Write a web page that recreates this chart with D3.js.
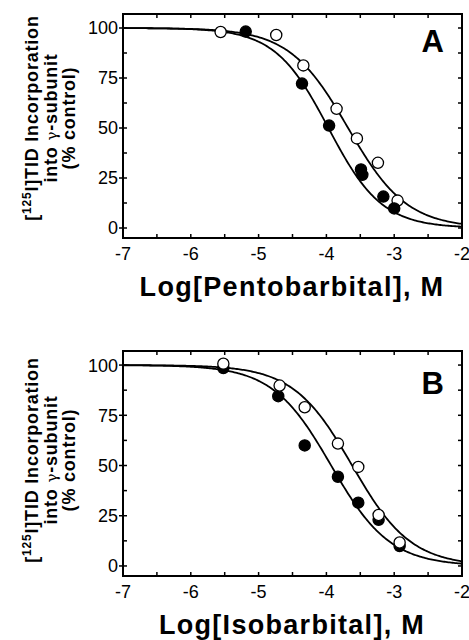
<!DOCTYPE html>
<html>
<head>
<meta charset="utf-8">
<script src="https://cdn.jsdelivr.net/npm/d3@7"></script>
<style>
    html, body { margin: 0; padding: 0; background: #fff; }
    svg { display: block; font-family: "Liberation Sans", Arial, sans-serif; }
</style>
</head>
<body>
<div id="chart"></div>
<script>
// axis ticks
var xTickVals = [-7, -6, -5, -4, -3, -2];
var xTickLabels = ["-7", "-6", "-5", "-4", "-3", "-2"];
var yTickVals = [0, 25, 50, 75, 100];
var yTickLabels = ["0", "25", "50", "75", "100"];

// panel A: pentobarbital (open / filled circles)
var pentoOpenLogC = [-5.56, -4.74, -4.34, -3.85, -3.55, -3.24, -2.95];
var pentoOpenPct = [98.0, 96.5, 81.3, 59.6, 44.8, 32.6, 13.7];
var pentoFilledLogC = [-5.19, -4.36, -3.96, -3.49, -3.47, -3.16, -3.00];
var pentoFilledPct = [98.2, 72.2, 51.2, 29.3, 26.6, 15.7, 9.8];
// fitted curves [open, filled]
var pentoFitLogIC50 = [-3.68, -3.97];
var pentoFitHill = [1.0, 1.1];

// panel B: isobarbital
var isoOpenLogC = [-5.52, -4.69, -4.32, -3.83, -3.53, -3.23, -2.92];
var isoOpenPct = [100.7, 89.8, 79.0, 60.9, 49.3, 25.4, 11.7];
var isoFilledLogC = [-5.52, -4.71, -4.32, -3.83, -3.53, -3.23, -2.92];
var isoFilledPct = [98.5, 84.5, 60.0, 44.4, 31.5, 23.0, 9.9];
var isoFitLogIC50 = [-3.62, -3.93];
var isoFitHill = [1.0, 1.0];

var width = 469, height = 640;

var svg = d3.select('#chart').append('svg')
    .attr('width', width)
    .attr('height', height);

function hill(logC, logIC50, n) {
    return 100 / (1 + Math.pow(10, n * (logC - logIC50)));
}

function drawPanel(p) {
    var x = d3.scaleLinear().domain([-7, -2]).range([123, 462]);
    var y = d3.scaleLinear().domain([-5, 107]).range([p.bottom, p.top]);

    var g = svg.append('g');
    var clipId = 'clip-' + p.letter;

    g.append('clipPath').attr('id', clipId)
        .append('rect')
        .attr('x', 123).attr('y', p.top)
        .attr('width', 339).attr('height', p.bottom - p.top);

    // minor / major ticks, all inward
    var xt = d3.range(-7, -1.9, 0.5);
    var yt = d3.range(0, 100.1, 12.5);
    g.selectAll('.tb').data(xt).enter().append('line')
        .attr('x1', function(d) { return x(d); }).attr('x2', function(d) { return x(d); })
        .attr('y1', p.bottom).attr('y2', p.bottom - 4)
        .attr('stroke', '#000').attr('stroke-width', 1.5);
    g.selectAll('.tt').data(xt).enter().append('line')
        .attr('x1', function(d) { return x(d); }).attr('x2', function(d) { return x(d); })
        .attr('y1', p.top).attr('y2', p.top + 4)
        .attr('stroke', '#000').attr('stroke-width', 1.5);
    g.selectAll('.tr').data(yt).enter().append('line')
        .attr('x1', 462).attr('x2', 458)
        .attr('y1', function(d) { return y(d); }).attr('y2', function(d) { return y(d); })
        .attr('stroke', '#000').attr('stroke-width', 1.5);
    g.selectAll('.tl').data(yt).enter().append('line')
        .attr('x1', function(d) { return yTickVals.indexOf(d) >= 0 ? 119 : 123; })
        .attr('x2', 127)
        .attr('y1', function(d) { return y(d); }).attr('y2', function(d) { return y(d); })
        .attr('stroke', '#000').attr('stroke-width', 1.5);

    // frame
    g.append('rect')
        .attr('x', 123).attr('y', p.top)
        .attr('width', 339).attr('height', p.bottom - p.top)
        .attr('fill', 'none').attr('stroke', '#000').attr('stroke-width', 2);

    // tick labels
    g.selectAll('.xl').data(xTickVals).enter().append('text')
        .attr('x', function(d) { return x(d); })
        .attr('y', p.bottom + 22)
        .attr('text-anchor', 'middle')
        .attr('font-size', 18)
        .text(function(d, i) { return xTickLabels[i]; });
    g.selectAll('.yl').data(yTickVals).enter().append('text')
        .attr('x', 118)
        .attr('y', function(d) { return y(d); })
        .attr('dy', '0.36em')
        .attr('text-anchor', 'end')
        .attr('font-size', 18)
        .text(function(d, i) { return yTickLabels[i]; });

    // fitted curves
    var xs = d3.range(-7, -1.99, 0.02);
    var line = d3.line()
        .x(function(d) { return x(d[0]); })
        .y(function(d) { return y(d[1]); });
    p.ic50.forEach(function(ic, k) {
        var pts = xs.map(function(v) { return [v, hill(v, ic, p.hill[k])]; });
        g.append('path')
            .attr('d', line(pts))
            .attr('clip-path', 'url(#' + clipId + ')')
            .attr('fill', 'none')
            .attr('stroke', '#000')
            .attr('stroke-width', 1.8);
    });

    // points
    function dots(xv, yv, filled) {
        g.append('g').selectAll('circle').data(xv).enter().append('circle')
            .attr('cx', function(d) { return x(d); })
            .attr('cy', function(d, i) { return y(yv[i]); })
            .attr('r', 5.6)
            .attr('fill', filled ? '#000' : '#fff')
            .attr('stroke', '#000')
            .attr('stroke-width', 1.3);
    }
    if (p.openOnTop) {
        dots(p.filledX, p.filledY, true);
        dots(p.openX, p.openY, false);
    } else {
        dots(p.openX, p.openY, false);
        dots(p.filledX, p.filledY, true);
    }

    // panel letter
    g.append('text')
        .attr('x', 444).attr('y', p.letterY)
        .attr('text-anchor', 'end')
        .attr('font-size', 31).attr('font-weight', 'bold')
        .text(p.letter);

    // x title
    g.append('text')
        .attr('x', 292).attr('y', p.bottom + 58)
        .attr('text-anchor', 'middle')
        .attr('font-size', 27).attr('font-weight', 'bold')
        .attr('letter-spacing', 1.3)
        .text(p.title);

    // y title, three rotated lines
    var yl = g.append('text')
        .attr('transform', 'translate(38,' + p.labelY + ') rotate(-90)')
        .attr('text-anchor', 'middle')
        .attr('font-size', 18).attr('font-weight', 'bold')
        .attr('letter-spacing', 0.8);
    var l1 = yl.append('tspan').attr('x', 0).attr('y', 0);
    l1.append('tspan').text('[');
    l1.append('tspan').attr('font-size', 12).attr('dy', -7).text('125');
    l1.append('tspan').attr('dy', 7).text('I]TID Incorporation');
    var l2 = yl.append('tspan').attr('x', 0).attr('y', 18.5);
    l2.append('tspan').text('into ');
    l2.append('tspan').attr('font-weight', 'normal').attr('font-family', '"DejaVu Serif", serif')
        .attr('font-size', 15).text('\u03b3');
    l2.append('tspan').text('-subunit');
    yl.append('tspan').attr('x', 0).attr('y', 37).text('(% control)');
}

drawPanel({
    letter: 'A', top: 14, bottom: 238, letterY: 52, labelY: 118,
    title: 'Log[Pentobarbital], M',
    openX: pentoOpenLogC, openY: pentoOpenPct,
    filledX: pentoFilledLogC, filledY: pentoFilledPct,
    ic50: pentoFitLogIC50, hill: pentoFitHill, openOnTop: false
});

drawPanel({
    letter: 'B', top: 351, bottom: 576, letterY: 394, labelY: 460,
    title: 'Log[Isobarbital], M',
    openX: isoOpenLogC, openY: isoOpenPct,
    filledX: isoFilledLogC, filledY: isoFilledPct,
    ic50: isoFitLogIC50, hill: isoFitHill, openOnTop: true
});
</script>
</body>
</html>
